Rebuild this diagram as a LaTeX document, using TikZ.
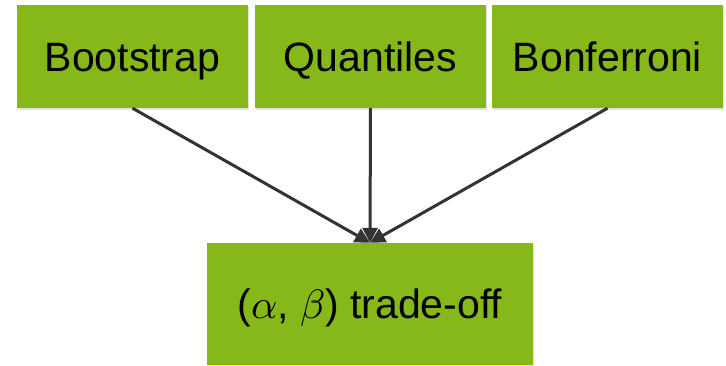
\documentclass[tikz,border=0pt]{standalone}
\usepackage{fontspec}
\usepackage{unicode-math}
\setmainfont{Liberation Sans}
\setmathfont{Latin Modern Math}
\usetikzlibrary{arrows.meta,shadows}
\definecolor{boxgreen}{RGB}{134,184,26}
\definecolor{arrowgray}{RGB}{51,51,51}
\tikzset{
  gbox/.style={fill=boxgreen, draw=none, minimum width=231pt, minimum height=103pt,
    inner sep=0pt, font=\fontsize{41}{48}\selectfont, text=black,
    text height=29pt, text depth=0pt,
    drop shadow={opacity=0.22, shadow xshift=1pt, shadow yshift=-2pt}},
  conn/.style={draw=arrowgray, line width=3pt, -{Triangle[length=15pt,width=15pt]}}
}
\begin{document}
\begin{tikzpicture}[x=1pt,y=-1pt]
\useasboundingbox (0,0) rectangle (726,365);
\node[gbox] (boot) at (132.5,56.5) {Bootstrap};
\node[gbox] (quant) at (370.5,56.5) {Quantiles};
\node[gbox] (bonf) at (607.5,56.5) {Bonferroni};
\node[gbox, minimum width=326pt, minimum height=122pt] (bot) at (370,304) {($\alpha$, $\beta$) trade-off};
\draw[conn] (boot.south) -- (bot.north);
\draw[conn] (quant.south) -- (bot.north);
\draw[conn] (bonf.south) -- (bot.north);
\end{tikzpicture}
\end{document}
